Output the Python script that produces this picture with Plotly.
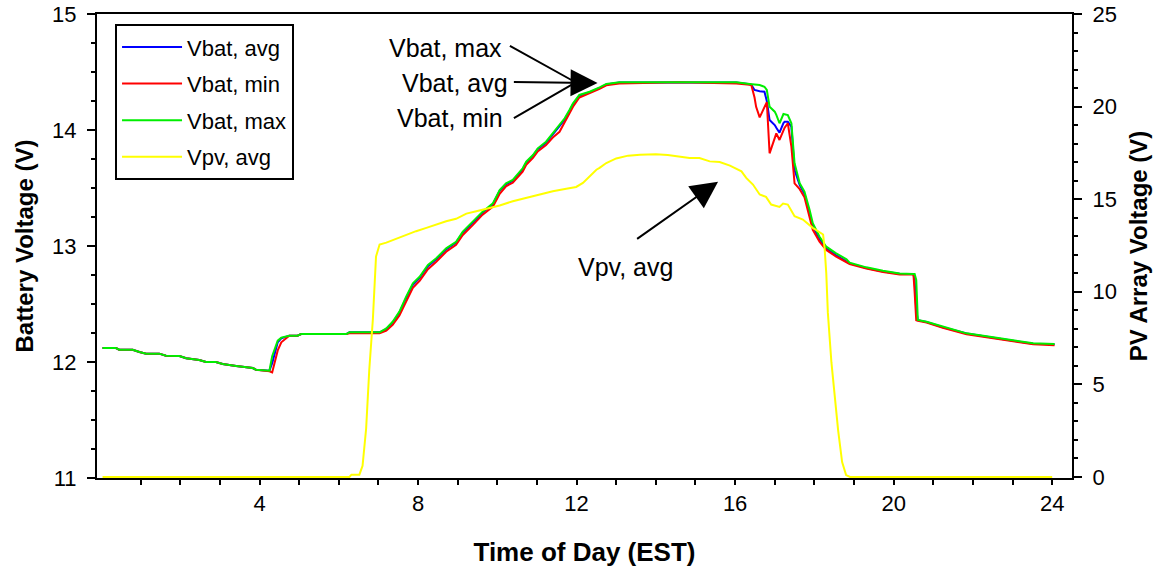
import plotly.graph_objects as go

# Battery voltage samples (hours EST, volts)
t_bat = [0.04, 0.38, 0.46, 0.80, 0.97, 1.14, 1.47, 1.64, 1.98, 2.15, 2.48, 2.65, 2.90,
         3.07, 3.41, 3.83, 3.91, 4.25, 4.32, 4.46, 4.55, 4.75, 4.96, 5.05, 6.19, 6.27,
         7.03, 7.20, 7.36, 7.53, 7.70, 7.87, 8.04, 8.25, 8.46, 8.71, 8.96, 9.13, 9.38,
         9.63, 9.89, 10.06, 10.22, 10.39, 10.64, 10.73, 10.90, 11.02, 11.23, 11.40,
         11.57, 11.70, 11.82, 11.91, 12.07, 12.33, 12.58, 12.75, 13.08, 14.60, 15.87,
         16.03, 16.37, 16.41, 16.49, 16.53, 16.62, 16.74, 16.80, 16.87, 17.00, 17.04,
         17.12, 17.22, 17.25, 17.33, 17.42, 17.50, 17.63, 17.75, 17.88, 17.96, 18.13,
         18.30, 18.55, 18.81, 18.89, 19.31, 19.73, 20.15, 20.50, 20.53, 20.57, 20.61,
         20.83, 21.24, 21.84, 22.68, 23.52, 24.06]

vbat_avg = [12.12, 12.12, 12.106, 12.106, 12.086, 12.072, 12.072, 12.054, 12.052, 12.032,
            12.017, 12.0, 12.0, 11.983, 11.966, 11.948, 11.934, 11.925, 11.99, 12.17,
            12.204, 12.227, 12.227, 12.241, 12.241, 12.256, 12.256, 12.283, 12.34, 12.425,
            12.55, 12.665, 12.725, 12.825, 12.885, 12.97, 13.03, 13.115, 13.20, 13.288,
            13.36, 13.475, 13.532, 13.56, 13.66, 13.718, 13.775, 13.835, 13.89, 13.96,
            14.03, 14.09, 14.16, 14.22, 14.295, 14.325, 14.362, 14.393, 14.41, 14.411,
            14.411, 14.41, 14.395, 14.39, 14.345, 14.34, 14.335, 14.33, 14.25, 14.086,
            14.043, 14.02, 13.977, 14.06, 14.072, 14.072, 14.029, 13.655, 13.526, 13.45,
            13.29, 13.17, 13.06, 12.98, 12.92, 12.87, 12.85, 12.81, 12.78, 12.76, 12.758,
            12.70, 12.45, 12.36, 12.345, 12.30, 12.245, 12.20, 12.158, 12.153]

vbat_min = [12.12, 12.12, 12.106, 12.106, 12.086, 12.072, 12.072, 12.054, 12.052, 12.032,
            12.017, 12.0, 12.0, 11.983, 11.966, 11.948, 11.934, 11.92, 11.91, 12.10,
            12.17, 12.227, 12.227, 12.241, 12.241, 12.248, 12.248, 12.27, 12.32, 12.40,
            12.52, 12.64, 12.70, 12.80, 12.865, 12.95, 13.01, 13.095, 13.18, 13.27,
            13.34, 13.45, 13.515, 13.545, 13.64, 13.70, 13.76, 13.815, 13.87, 13.935,
            13.985, 14.07, 14.14, 14.20, 14.28, 14.315, 14.355, 14.385, 14.40, 14.411,
            14.405, 14.40, 14.39, 14.385, 14.28, 14.20, 14.109, 14.20, 14.24, 13.799,
            13.943, 13.971, 13.914, 14.0, 14.02, 14.058, 13.856, 13.54, 13.49, 13.42,
            13.253, 13.14, 13.037, 12.966, 12.908, 12.86, 12.845, 12.805, 12.775, 12.755,
            12.755, 12.60, 12.36, 12.355, 12.34, 12.295, 12.24, 12.195, 12.153, 12.145]

vbat_max = [12.12, 12.12, 12.106, 12.106, 12.086, 12.072, 12.072, 12.054, 12.052, 12.032,
            12.017, 12.0, 12.0, 11.983, 11.966, 11.948, 11.934, 11.925, 12.05, 12.184,
            12.21, 12.227, 12.227, 12.241, 12.241, 12.256, 12.256, 12.29, 12.347, 12.434,
            12.563, 12.678, 12.735, 12.836, 12.894, 12.98, 13.037, 13.124, 13.21, 13.296,
            13.368, 13.483, 13.54, 13.569, 13.67, 13.727, 13.784, 13.842, 13.899, 13.971,
            14.043, 14.101, 14.172, 14.23, 14.302, 14.33, 14.368, 14.397, 14.411, 14.411,
            14.411, 14.411, 14.397, 14.395, 14.393, 14.39, 14.388, 14.373, 14.345, 14.201,
            14.158, 14.13, 14.058, 14.138, 14.135, 14.129, 14.058, 13.713, 13.540, 13.468,
            13.31, 13.196, 13.080, 12.994, 12.937, 12.885, 12.856, 12.816, 12.787, 12.764,
            12.759, 12.759, 12.707, 12.362, 12.347, 12.304, 12.247, 12.204, 12.161, 12.155]

# PV array voltage samples (hours EST, volts)
t_pv = [0.04, 6.27, 6.32, 6.52, 6.60, 6.69, 6.77, 6.86, 6.94, 7.03, 7.20, 7.45, 7.70,
        7.95, 8.21, 8.46, 8.71, 8.96, 9.22, 9.47, 9.72, 10.06, 10.39, 10.73, 11.07,
        11.40, 11.74, 11.99, 12.16, 12.33, 12.50, 12.58, 12.75, 13.0, 13.3, 13.6, 14.0,
        14.3, 14.60, 14.85, 15.10, 15.36, 15.61, 15.87, 16.16, 16.28, 16.45, 16.62,
        16.78, 16.91, 17.12, 17.21, 17.33, 17.50, 17.71, 17.88, 17.96, 18.22, 18.26,
        18.30, 18.34, 18.43, 18.47, 18.60, 18.70, 18.80, 18.90, 24.0]

vpv_avg = [0.0, 0.0, 0.12, 0.12, 0.6, 2.6, 5.8, 8.5, 11.9, 12.55, 12.65, 12.86, 13.04,
           13.27, 13.45, 13.63, 13.81, 13.94, 14.22, 14.35, 14.48, 14.66, 14.89, 15.07,
           15.25, 15.43, 15.56, 15.66, 15.88, 16.23, 16.59, 16.69, 16.95, 17.2, 17.35,
           17.4, 17.42, 17.38, 17.31, 17.22, 17.22, 17.04, 17.01, 16.81, 16.50, 16.15,
           15.79, 15.25, 15.12, 14.71, 14.58, 14.76, 14.71, 14.08, 13.90, 13.60, 13.45,
           13.09, 12.3, 11.0, 8.87, 6.18, 5.28, 2.5, 0.8, 0.1, 0.0, 0.0]

hour_ticks = list(range(1, 25))
hour_labels = [str(h) if h % 4 == 0 else "" for h in hour_ticks]

FONT = "Liberation Sans, Arial, sans-serif"
X_RANGE = [-0.1, 24.5]
VBAT_RANGE = [11, 15]
VPV_RANGE = [-0.06, 25]

fig = go.Figure()
series = [
    (t_bat, vbat_avg, "Vbat, avg", "#0000ff", "y"),
    (t_bat, vbat_min, "Vbat, min", "#ff0000", "y"),
    (t_bat, vbat_max, "Vbat, max", "#00ee00", "y"),
    (t_pv, vpv_avg, "Vpv, avg", "#ffff00", "y2"),
]
for xs, ys, name, color, yax in series:
    fig.add_trace(go.Scatter(x=xs, y=ys, mode="lines", name=name, legendgroup=name,
                             line=dict(color=color, width=2), yaxis=yax))

# Arrows pointing at the battery and PV curves
arrow_common = dict(xref="x", yref="y", axref="x", ayref="y", text="",
                    showarrow=True, arrowcolor="black", arrowwidth=2)
annotations = [
    dict(x=12.53, y=14.405, ax=10.38, ay=14.414, arrowhead=2, arrowsize=2.7, **arrow_common),
    dict(x=11.87, y=14.431, ax=10.28, ay=14.733, arrowhead=0, **arrow_common),
    dict(x=11.87, y=14.388, ax=10.38, ay=14.095, arrowhead=0, **arrow_common),
    dict(x=15.57, y=13.554, ax=13.49, ay=13.052, arrowhead=2, arrowsize=2.7, **arrow_common),
]
labels = [
    ("Vbat, max", 10.16, 14.71, "right"),
    ("Vbat, avg", 10.33, 14.405, "right"),
    ("Vbat, min", 10.20, 14.105, "right"),
    ("Vpv, avg", 13.23, 12.82, "center"),
]
for text, x, y, anchor in labels:
    annotations.append(dict(x=x, y=y, xref="x", yref="y", text=text, showarrow=False,
                            xanchor=anchor, yanchor="middle",
                            font=dict(family=FONT, size=25, color="black")))

fig.update_layout(
    width=1164, height=575,
    margin=dict(l=97, r=92, t=14, b=97, autoexpand=False),
    paper_bgcolor="white", plot_bgcolor="white",
    font=dict(family=FONT, size=22, color="black"),
    showlegend=True,
    legend=dict(x=0.0185, y=0.978, xanchor="left", yanchor="top",
                bgcolor="white", bordercolor="black", borderwidth=2,
                font=dict(family=FONT, size=22, color="black"),
                itemwidth=60, tracegroupgap=5),
    annotations=annotations,
    xaxis=dict(range=X_RANGE, tickvals=hour_ticks, ticktext=hour_labels,
               ticks="outside", ticklen=5, tickwidth=2, tickcolor="black",
               showline=True, linewidth=2, linecolor="black", mirror=True,
               showgrid=False, zeroline=False, layer="below traces", automargin=False,
               tickfont=dict(family=FONT, size=22),
               title=dict(text="<b>Time of Day (EST)</b>", standoff=27,
                          font=dict(family=FONT, size=26))),
    xaxis2=dict(range=X_RANGE, overlaying="x", anchor="y", side="bottom",
                tickvals=hour_ticks, ticks="inside", ticklen=5, tickwidth=2,
                tickcolor="black", showticklabels=False, showline=False,
                showgrid=False, zeroline=False, automargin=False),
    yaxis=dict(range=VBAT_RANGE, dtick=1, ticks="outside", ticklen=8, tickwidth=2,
               tickcolor="black", showline=True, linewidth=2, linecolor="black",
               showgrid=False, zeroline=False, ticklabelstandoff=6, automargin=False,
               minor=dict(dtick=0.25, ticks="outside", ticklen=4, tickwidth=2,
                          tickcolor="black"),
               tickfont=dict(family=FONT, size=22),
               title=dict(text="<b>Battery Voltage (V)</b>", standoff=12,
                          font=dict(family=FONT, size=24))),
    yaxis3=dict(range=VBAT_RANGE, overlaying="y", anchor="x", side="left", dtick=1,
                ticks="inside", ticklen=9, tickwidth=2, tickcolor="black",
                showticklabels=False, showline=False, showgrid=False, zeroline=False,
                automargin=False),
    yaxis2=dict(range=VPV_RANGE, overlaying="y", anchor="x", side="right", dtick=5,
                ticks="outside", ticklen=8, tickwidth=2, tickcolor="black",
                showline=True, linewidth=2, linecolor="black",
                showgrid=False, zeroline=False, ticklabelstandoff=6, automargin=False,
                minor=dict(dtick=1, ticks="outside", ticklen=4, tickwidth=2,
                           tickcolor="black"),
                tickfont=dict(family=FONT, size=22),
                title=dict(text="<b>PV Array Voltage (V)</b>", standoff=14,
                           font=dict(family=FONT, size=24))),
    yaxis4=dict(range=VPV_RANGE, overlaying="y", anchor="x", side="right", dtick=5,
                ticks="inside", ticklen=7, tickwidth=2, tickcolor="black",
                showticklabels=False, showline=False, showgrid=False, zeroline=False,
                automargin=False),
)

fig.write_html("out.html")
